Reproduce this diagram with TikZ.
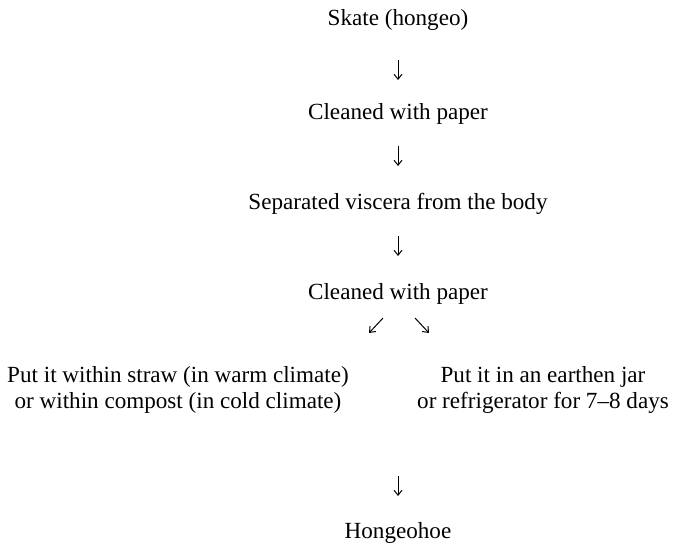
\documentclass[tikz,border=0pt]{standalone}
\usepackage{fontspec}
\setmainfont{Liberation Serif}
\usetikzlibrary{positioning,arrows.meta}

\begin{document}
\begin{tikzpicture}[x=0.5bp,y=-0.5bp,
      stage/.style={align=center,font=\fontsize{11.6}{13}\selectfont,inner sep=1bp},
      flow/.style={-{Straight Barb[length=2.5pt,width=4pt]},line width=0.5pt}]
    \useasboundingbox (0,0) rectangle (677,556);
    \node[stage] (skate) at (398,20) {Skate (hongeo)};
    \node[stage] (clean1) at (398,114) {Cleaned with paper};
    \node[stage] (sep) at (398,204) {Separated viscera from the body};
    \node[stage] (clean2) at (398,294) {Cleaned with paper};
    \node[stage] (straw) at (178,390) {Put it within straw (in warm climate)\\or within compost (in cold climate)};
    \node[stage] (jar) at (543,390) {Put it in an earthen jar\\or refrigerator for 7--8 days};
    \node[stage] (final) at (398,533) {Hongeohoe};
    % arrow ends
    \coordinate (a1) at (398,60);  \coordinate (b1) at (398,80);
    \coordinate (a2) at (398,146); \coordinate (b2) at (398,166);
    \coordinate (a3) at (398,236); \coordinate (b3) at (398,256);
    \coordinate (dl0) at (383,318); \coordinate (dl1) at (369,333);
    \coordinate (dr0) at (415,318); \coordinate (dr1) at (429,333);
    \coordinate (a4) at (398,476); \coordinate (b4) at (398,496);
    \draw[flow] (a1) -- (b1);
    \draw[flow] (a2) -- (b2);
    \draw[flow] (a3) -- (b3);
    \draw[flow] (dl0) -- (dl1);
    \draw[flow] (dr0) -- (dr1);
    \draw[flow] (a4) -- (b4);
  \end{tikzpicture}
\end{document}
